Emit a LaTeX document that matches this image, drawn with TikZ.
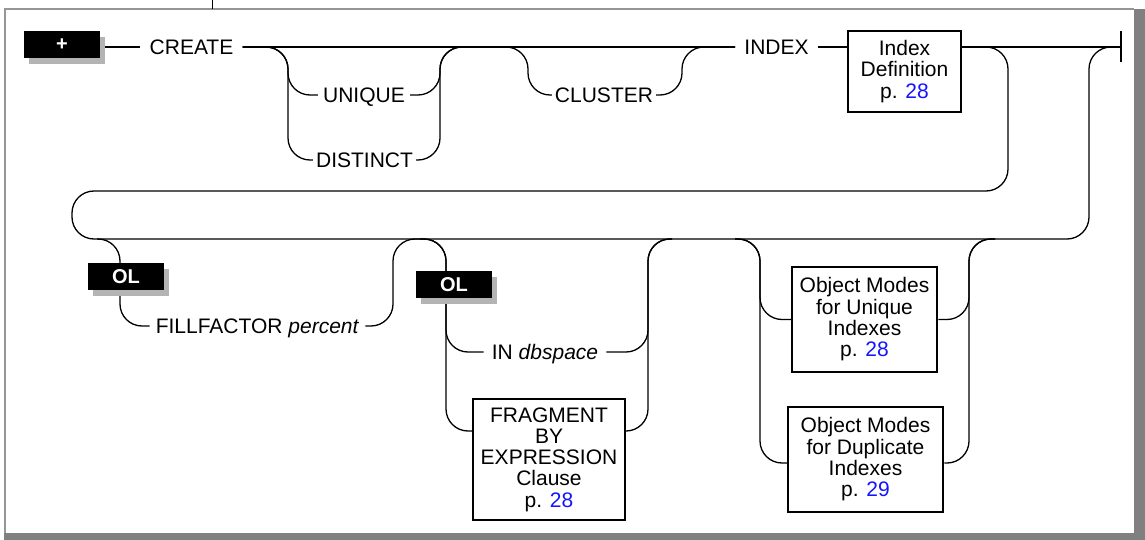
\documentclass[tikz,border=0pt]{standalone}
\usepackage{fontspec}
\setmainfont{Liberation Sans}
\definecolor{framegray}{RGB}{128,128,128}
\definecolor{framelight}{RGB}{150,150,150}
\definecolor{shadowgray}{RGB}{180,180,180}
\definecolor{linkblue}{RGB}{20,20,255}
\begin{document}
\begin{tikzpicture}[x=1pt,y=-1pt,
  rail/.style={line width=1.3pt, rounded corners=22pt},
  kw/.style={font=\fontsize{21}{21.3}\selectfont, inner xsep=5pt, inner ysep=0pt, text height=15pt, text depth=0pt},
  refbox/.style={draw, line width=2.5pt, fill=white, align=center, inner sep=0pt, font=\fontsize{21}{21.3}\selectfont},
  tag/.style={fill=black, text=white, font=\bfseries\fontsize{20}{22}\selectfont, minimum width=76pt, minimum height=27pt, inner sep=0pt},
  tagshadow/.style={fill=shadowgray, minimum width=76pt, minimum height=27pt, inner sep=0pt}]
\useasboundingbox (0,0) rectangle (1145,540);
% frame
\fill[framegray] (1134,9) rectangle (1145,540);
\fill[framegray] (4,533) rectangle (1145,540);
\draw[framelight, line width=2pt] (4,9) -- (1134,9);
\draw[framelight, line width=2pt] (5,9) -- (5,533);
\draw[line width=1pt] (212,0) -- (212,9);
% nodes
\node[tagshadow] (plussh) at (67,50.5) {};
\node[tag] (plus) at (62,44.5) {+};
\node[kw, inner xsep=9pt] (create) at (191.5,47) {CREATE};
\node[kw] (unique) at (364,95) {UNIQUE};
\node[kw, inner xsep=3pt] (distinct) at (364.5,160) {DISTINCT};
\node[kw, inner xsep=3pt] (cluster) at (604,95) {CLUSTER};
\node[kw, inner xsep=9pt] (index) at (776.5,47) {INDEX};
\node[refbox, minimum width=113pt, minimum height=81pt] (idxdef) at (904.5,71.5) {Index\\Definition\\p. \textcolor{linkblue}{28}};
\coordinate (endb) at (1121,47);
\node[kw, inner xsep=6pt] (fill) at (257.5,326) {FILLFACTOR \textit{percent}};
\node[kw, inner xsep=8pt] (indb) at (545,352) {IN \textit{dbspace}};
\node[refbox, minimum width=152pt, minimum height=121pt] (frag) at (549,459.5) {FRAGMENT\\BY\\EXPRESSION\\Clause\\p. \textcolor{linkblue}{28}};
\node[refbox, minimum width=145pt, minimum height=105pt] (omu) at (864.5,319.5) {Object Modes\\for Unique\\Indexes\\p. \textcolor{linkblue}{28}};
\node[refbox, minimum width=155pt, minimum height=105pt] (omd) at (865.5,459.5) {Object Modes\\for Duplicate\\Indexes\\p. \textcolor{linkblue}{29}};
% top row rails
\draw[rail] (plussh.east |- create.west) -- (create.west);
\draw[rail] (create.east) -- (index.west);
\draw[rail] (create.east) -| (288,95) -- (unique.west);
\draw[rail] (create.east) -| (288,160) -- (distinct.west);
\draw[rail] (unique.east) -| (440,47) -- (index.west);
\draw[rail] (distinct.east) -| (440,47) -- (index.west);
\draw[rail] (create.east) -| (528,95) -- (cluster.west);
\draw[rail] (cluster.east) -| (682,47) -- (index.west);
\draw[rail] (index.east) -- (idxdef.west |- index.east);
\draw[rail] (idxdef.east |- endb) -- (endb);
\draw[line width=1.6pt] ([yshift=15.5pt]endb) -- ([yshift=-15.5pt]endb);
\draw[rail] (idxdef.east |- endb) -- (1008,47) -- (1008,191) -- (72,191) -- (72,239) -- (1089,239) -- (1089,47) -- (endb);
% second row rails
\draw[rail] (97,239) -- (120,239) -- (120,326) -- (fill.west);
\draw[rail] (fill.east) -| (393,239) -- (420,239);
\draw[rail] (420,239) -- (446,239) -- (446,352) -- (indb.west);
\draw[rail] (420,239) -- (446,239) -- (446,431) -- ([yshift=28.5pt]frag.west);
\draw[rail] (indb.east) -| (648,239) -- (672,239);
\draw[rail] ([yshift=28.5pt]frag.east) -| (648,239) -- (672,239);
\draw[rail] (735,239) -- (760,239) -- (760,319.5) -- (omu.west);
\draw[rail] (735,239) -- (760,239) -- (760,463) -- ([yshift=-3.5pt]omd.west);
\draw[rail] (omu.east) -| (969,239) -- (995,239);
\draw[rail] ([yshift=-3.5pt]omd.east) -| (969,239) -- (995,239);
% OL tags
\node[tagshadow] (ol1sh) at (131,282.5) {};
\node[tag] (ol1) at (126,276.5) {OL};
\node[tagshadow] (ol2sh) at (459,290.5) {};
\node[tag] (ol2) at (454,284.5) {OL};
\end{tikzpicture}
\end{document}
